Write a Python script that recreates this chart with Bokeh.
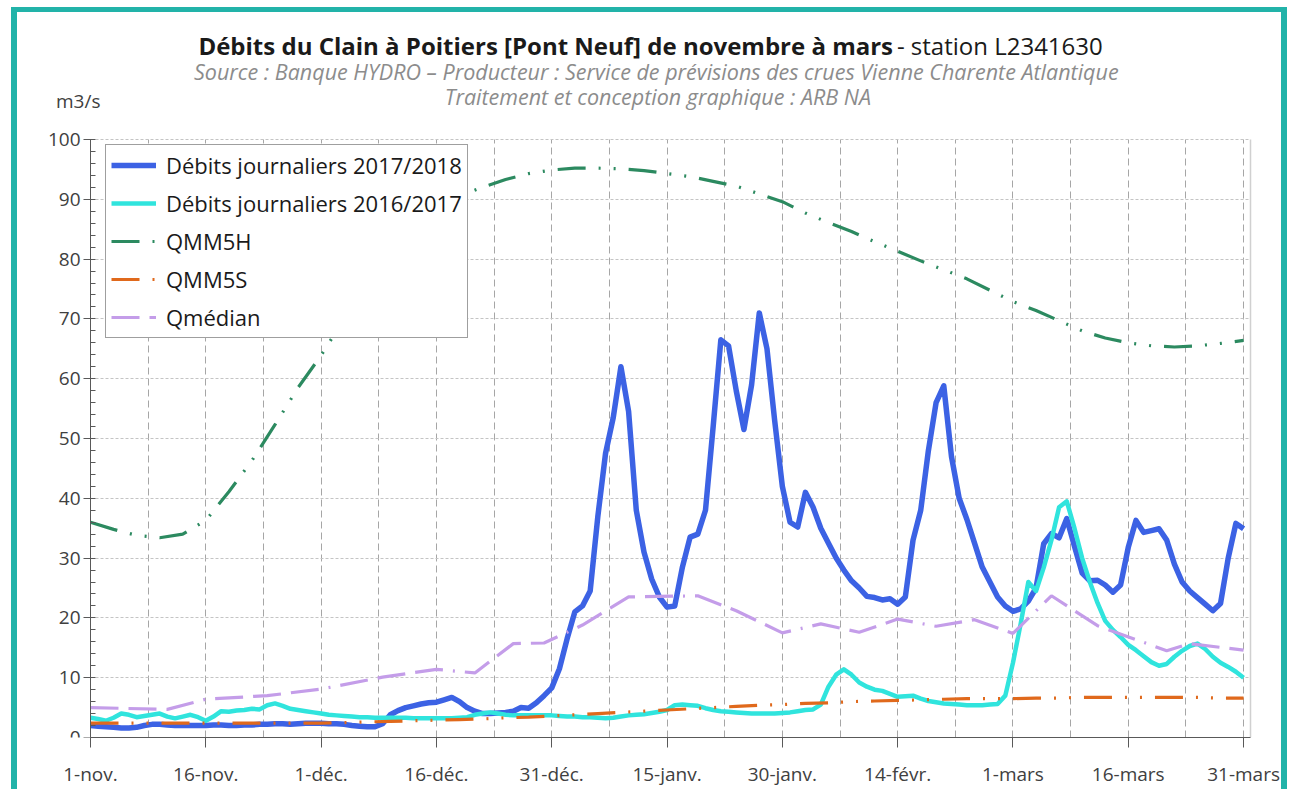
from bokeh.plotting import figure
from bokeh.models import (FixedTicker, SingleIntervalTicker, Legend, LegendItem, Label,
                          Range1d, Grid)
from bokeh.embed import file_html
from bokeh.resources import INLINE

# ---------------- data ----------------
tick_days = [0, 15, 30, 45, 60, 75, 90, 105, 120, 135, 150]
tick_labels = ["1-nov.", "16-nov.", "1-déc.", "16-déc.", "31-déc.", "15-janv.",
               "30-janv.", "14-févr.", "1-mars", "16-mars", "31-mars"]
y_ticks = [0, 10, 20, 30, 40, 50, 60, 70, 80, 90, 100]

days = list(range(151))

debits_2017_2018 = [
    2.0, 1.9, 1.8, 1.7, 1.6, 1.6, 1.7, 2.0, 2.2, 2.2,
    2.1, 2.0, 2.0, 2.0, 2.0, 2.0, 2.1, 2.1, 2.0, 2.0,
    2.1, 2.1, 2.2, 2.2, 2.3, 2.3, 2.2, 2.3, 2.4, 2.4,
    2.4, 2.3, 2.3, 2.2, 2.0, 1.9, 1.8, 1.8, 2.3, 3.8,
    4.5, 5.0, 5.3, 5.6, 5.8, 5.9, 6.3, 6.7, 6.0, 5.0,
    4.4, 4.0, 4.0, 4.1, 4.2, 4.4, 5.0, 4.9, 5.8, 7.0,
    8.3, 11.5, 16.5, 21.0, 22.0, 24.5, 37.0, 47.5, 53.5, 62.0,
    54.5, 38.0, 31.0, 26.5, 23.5, 21.8, 22.0, 28.5, 33.5, 34.0,
    38.0, 52.0, 66.5, 65.5, 58.0, 51.5, 59.0, 71.0, 65.0, 53.0,
    42.0, 36.0, 35.2, 41.0, 38.5, 35.0, 32.5, 30.0, 28.0, 26.2,
    25.0, 23.6, 23.4, 23.0, 23.2, 22.3, 23.5, 33.0, 38.0, 48.0,
    56.0, 58.8, 47.0, 40.0, 36.5, 32.5, 28.5, 26.0, 23.5, 22.0,
    21.1, 21.5, 22.8, 25.0, 32.4, 34.1, 33.4, 36.6, 32.0, 27.5,
    26.2, 26.3, 25.5, 24.3, 25.5, 31.8, 36.3, 34.3, 34.6, 34.9,
    33.0, 29.0, 26.0, 24.5, 23.4, 22.3, 21.2, 22.4, 30.0, 35.8,
    34.9,
]

debits_2016_2017 = [
    3.3, 3.1, 2.8, 3.3, 4.0, 3.8, 3.4, 3.6, 3.8, 4.0,
    3.5, 3.2, 3.5, 3.8, 3.4, 2.8, 3.5, 4.4, 4.3, 4.5,
    4.6, 4.8, 4.7, 5.4, 5.7, 5.3, 4.8, 4.6, 4.4, 4.2,
    4.0, 3.8, 3.7, 3.6, 3.5, 3.4, 3.4, 3.3, 3.3, 3.3,
    3.3, 3.3, 3.2, 3.2, 3.2, 3.2, 3.2, 3.2, 3.3, 3.4,
    3.8, 4.0, 4.2, 4.0, 3.8, 3.7, 3.7, 3.7, 3.7, 3.7,
    3.7, 3.6, 3.5, 3.5, 3.4, 3.4, 3.3, 3.2, 3.3, 3.5,
    3.7, 3.8, 3.9, 4.1, 4.3, 4.6, 5.4, 5.5, 5.4, 5.3,
    4.9, 4.6, 4.4, 4.3, 4.2, 4.1, 4.0, 4.0, 4.0, 4.0,
    4.1, 4.2, 4.4, 4.6, 4.7, 5.5, 8.5, 10.5, 11.4, 10.5,
    9.2, 8.5, 8.0, 7.8, 7.3, 6.8, 6.9, 7.0, 6.5, 6.1,
    5.9, 5.7, 5.6, 5.5, 5.4, 5.4, 5.4, 5.5, 5.6, 7.0,
    12.5, 19.0, 26.0, 24.5, 28.4, 33.0, 38.5, 39.5, 35.0, 30.0,
    26.0, 22.5, 19.5, 18.0, 16.8, 15.5, 14.6, 13.6, 12.6, 12.0,
    12.3, 13.5, 14.5, 15.3, 15.7, 14.8, 13.5, 12.5, 11.8, 11.0,
    10.0,
]

qmm_days = list(range(0, 151, 3))
qmm5h = [
    36.0, 34.8, 33.8, 33.4, 34.0, 36.3, 41.1, 46.3, 52.3, 58.5,
    63.9, 70.0, 76.0, 81.0, 85.2, 88.3, 90.6, 92.0, 93.3, 94.3,
    94.9, 95.2, 95.2, 95.1, 94.8, 94.3, 93.8, 93.0, 92.2, 90.9,
    89.6, 87.7, 86.1, 84.6, 82.9, 81.3, 79.7, 78.2, 76.7, 74.8,
    72.9, 71.4, 69.7, 68.0, 66.8, 66.0, 65.5, 65.3, 65.5, 65.9,
    66.4,
]
qmm5s = [
    2.4, 2.4, 2.4, 2.4, 2.4, 2.4, 2.4, 2.4, 2.4, 2.4,
    2.4, 2.5, 2.6, 2.7, 2.8, 2.9, 3.0, 3.1, 3.3, 3.4,
    3.6, 3.8, 4.0, 4.2, 4.4, 4.6, 4.8, 5.0, 5.2, 5.4,
    5.5, 5.7, 5.8, 6.0, 6.1, 6.2, 6.3, 6.4, 6.5, 6.5,
    6.5, 6.6, 6.6, 6.7, 6.7, 6.7, 6.7, 6.7, 6.7, 6.6,
    6.6,
]

qmedian_days = [0, 10, 15, 23, 30, 38, 45, 50, 55, 59, 64, 70, 79, 84, 90, 95,
                100, 105, 110, 115, 120, 125, 131, 140, 143, 150]
qmedian = [5.0, 4.7, 6.4, 7.0, 8.1, 10.1, 11.4, 10.8, 15.7, 15.8, 18.8, 23.5, 23.7,
           21.2, 17.5, 19.0, 17.6, 19.8, 18.6, 19.7, 17.4, 23.7, 18.7, 14.5, 15.7, 14.6]

series_names = ["Débits journaliers 2017/2018", "Débits journaliers 2016/2017",
                "QMM5H", "QMM5S", "Qmédian"]

# ---------------- figure ----------------
FONT = "Open Sans"
TEAL = "#22b3a9"
X_END_AXIS = 150.9          # right edge of the plotting area
Y_MAX = 100

# the frame is widened to the figure edges so that header texts stay inside it
p = figure(width=1289, height=789,
           x_range=Range1d(-9.106, 151.16), y_range=Range1d(0, 120.9),
           output_backend="svg", toolbar_location=None,
           min_border_left=20, min_border_right=37,
           min_border_top=14, min_border_bottom=52)
p.border_fill_color = None
p.background_fill_color = "white"
p.outline_line_color = None
p.styles = {"box-shadow": (f"inset 0 7px 0 0 #ffffff, inset 11px 0 0 0 #ffffff, "
                           f"inset -2px 0 0 0 #ffffff, inset 0 12px 0 0 {TEAL}, "
                           f"inset 17px 0 0 0 {TEAL}, inset -8px 0 0 0 {TEAL}")}

# axes
p.xaxis.ticker = FixedTicker(ticks=tick_days, minor_ticks=[])
p.xaxis.major_label_overrides = {d: lab for d, lab in zip(tick_days, tick_labels)}
p.xaxis.bounds = (0, X_END_AXIS)
p.yaxis.ticker = SingleIntervalTicker(interval=10, num_minor_ticks=5)
p.yaxis.bounds = (0, Y_MAX)
p.yaxis.fixed_location = 0
for ax in (p.xaxis[0], p.yaxis[0]):
    ax.axis_line_color = "#595959"
    ax.major_tick_line_color = "#595959"
    ax.minor_tick_line_color = "#595959"
    ax.major_label_text_font = FONT
    ax.major_label_text_font_size = "19px"
    ax.major_label_text_color = "#404040"
p.xaxis.major_tick_out = 10
p.xaxis.major_tick_in = 0
p.xaxis.major_label_standoff = 13
p.yaxis.major_tick_out = 7
p.yaxis.major_tick_in = 3
p.yaxis.minor_tick_in = 5
p.yaxis.minor_tick_out = 0
p.yaxis.major_label_standoff = 3

# grids
p.xgrid.ticker = FixedTicker(ticks=[7.5 * i for i in range(21)])
p.xgrid.cross_bounds = (0, Y_MAX)
p.xgrid.grid_line_color = "#a6a6a6"
p.xgrid.grid_line_dash = "7 4"
p.ygrid.ticker = FixedTicker(ticks=y_ticks)
p.ygrid.cross_bounds = (0, X_END_AXIS)
p.ygrid.grid_line_color = "#c4c4c4"
p.ygrid.grid_line_dash = "3 2"
edge = Grid(dimension=0, ticker=FixedTicker(ticks=[X_END_AXIS]), cross_bounds=(0, Y_MAX),
            grid_line_color="#d0d0d0", grid_line_width=1.5)
p.add_layout(edge)

# series
r1 = p.line(days, debits_2017_2018, line_color="#3c62e4", line_width=5.5, line_join="round")
r2 = p.line(days, debits_2016_2017, line_color="#30e4dd", line_width=4.5, line_join="round")
r3 = p.line(qmm_days, qmm5h, line_color="#2c8a60", line_width=3.2, line_dash="28 13 2 13 2 13")
r4 = p.line(qmm_days, qmm5s, line_color="#e0691c", line_width=3.2, line_dash="28 13 2 13 2 13")
r5 = p.line(qmedian_days, qmedian, line_color="#c49de9", line_width=3.2,
            line_dash="28 10 28 10 28 10 2 10")

legend = Legend(items=[LegendItem(label=n, renderers=[r])
                       for n, r in zip(series_names, [r1, r2, r3, r4, r5])])
legend.location = (85, 399)
legend.label_text_font = FONT
legend.label_text_font_size = "22px"
legend.label_text_color = "#1a1a1a"
legend.glyph_width = 45
legend.glyph_height = 30
legend.label_height = 30
legend.spacing = 8
legend.padding = 5
legend.label_standoff = 10
legend.border_line_color = "#404040"
legend.border_line_width = 1.5
legend.background_fill_color = "white"
legend.background_fill_alpha = 1.0
p.add_layout(legend)

# header texts (inside the widened frame, above the plotting area)
p.add_layout(Label(x=104.4, y=115.7, text="Débits du Clain à Poitiers [Pont Neuf] de novembre à mars",
                   text_align="right", text_baseline="middle", text_font=FONT,
                   text_font_size="24px", text_font_style="bold", text_color="#1a1a1a"))
p.add_layout(Label(x=104.9, y=115.7, text="- station  L2341630",
                   text_align="left", text_baseline="middle", text_font=FONT,
                   text_font_size="24px", text_color="#1a1a1a"))
p.add_layout(Label(x=73.6, y=111.3,
                   text="Source : Banque HYDRO – Producteur : Service de prévisions des crues Vienne Charente Atlantique",
                   text_align="center", text_baseline="middle", text_font=FONT,
                   text_font_size="21.5px", text_font_style="italic", text_color="#8c8c8c"))
p.add_layout(Label(x=73.8, y=107.2, text="Traitement et conception graphique : ARB NA",
                   text_align="center", text_baseline="middle", text_font=FONT,
                   text_font_size="21.5px", text_font_style="italic", text_color="#8c8c8c"))
p.add_layout(Label(x=-1.6, y=106.5, text="m3/s",
                   text_align="center", text_baseline="middle", text_font=FONT,
                   text_font_size="19px", text_color="#404040"))

open("out.html", "w").write(file_html(p, INLINE))
